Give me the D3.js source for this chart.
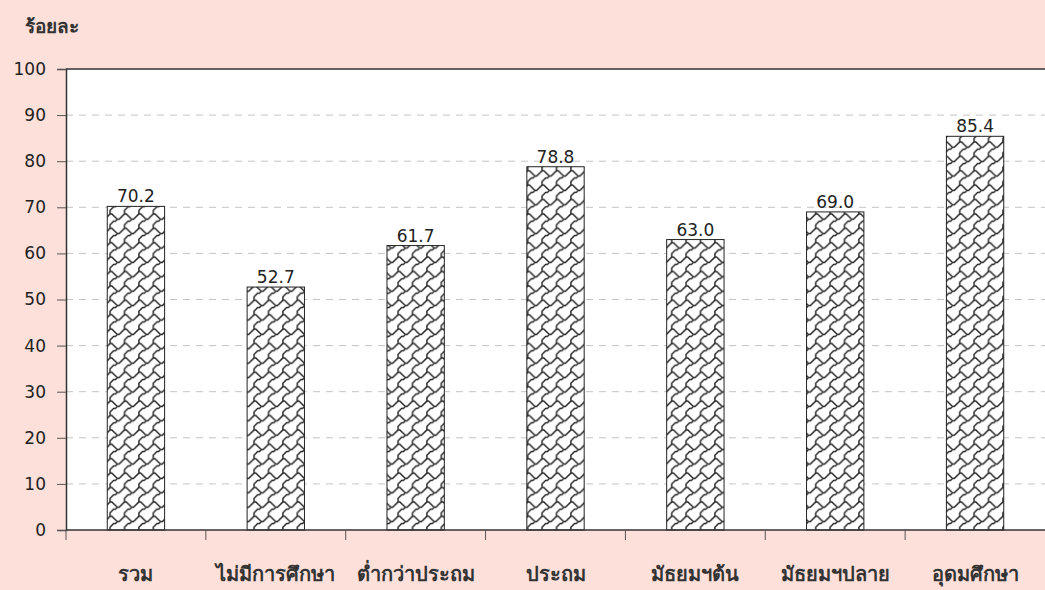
<!DOCTYPE html>
<html>
<head>
<meta charset="utf-8">
<script src="https://cdn.jsdelivr.net/npm/d3@7"></script>
<style>
  body { margin: 0; background: #fde0d9; }
  svg { display: block; }
</style>
</head>
<body>
<svg id="bar-chart" width="1045" height="590"></svg>
<script>
// data
const categories = ['รวม', 'ไม่มีการศึกษา', 'ต่ำกว่าประถม', 'ประถม', 'มัธยมฯต้น', 'มัธยมฯปลาย', 'อุดมศึกษา'];
const values = [70.2, 52.7, 61.7, 78.8, 63.0, 69.0, 85.4];
const yTicks = [0, 10, 20, 30, 40, 50, 60, 70, 80, 90, 100];
const yTitle = 'ร้อยละ';

const svg = d3.select('#bar-chart');
const width = +svg.attr('width');
const height = +svg.attr('height');
const margin = { top: 69, right: 0, bottom: 60, left: 66 };
const innerWidth = width - margin.left - margin.right;
const innerHeight = height - margin.top - margin.bottom;

const numFont = '"DejaVu Sans", sans-serif';
const thaiFont = '"Noto Sans", "DejaVu Sans", sans-serif';

// shingle fill pattern (8x8 bitmap scaled up)
const defs = svg.append('defs');
const pat = defs.append('pattern')
    .attr('id', 'shingle')
    .attr('patternUnits', 'userSpaceOnUse')
    .attr('width', 8)
    .attr('height', 8)
    .attr('patternTransform', 'scale(1.8)');
pat.append('rect').attr('width', 8).attr('height', 8).attr('fill', '#fff');
pat.append('path')
    .attr('d', 'M0.5,-0.5 L0.5,0.5 L1.5,0.5 L4.5,3.5 L5.5,3.5 L8.5,0.5 M-0.5,1.5 L0.5,0.5 M4.5,3.5 L3.5,4.5 L2.5,4.5 L0.5,6.5 L0.5,8.5')
    .attr('fill', 'none')
    .attr('stroke', '#222')
    .attr('stroke-width', 0.8);

const g = svg.append('g')
    .attr('transform', `translate(${margin.left},${margin.top})`);

const x = d3.scaleBand().domain(categories).range([0, innerWidth]);
const y = d3.scaleLinear().domain([0, 100]).range([innerHeight, 0]);

// plot background
g.append('rect')
    .attr('width', innerWidth)
    .attr('height', innerHeight)
    .attr('fill', '#fff');

// gridlines
g.selectAll('.grid')
    .data(yTicks.filter(d => d > 0 && d < 100))
    .enter().append('line')
    .attr('x1', 0).attr('x2', innerWidth)
    .attr('y1', d => y(d)).attr('y2', d => y(d))
    .attr('stroke', '#c4c4c4')
    .attr('stroke-width', 1)
    .attr('stroke-dasharray', '7,6');

// top border
g.append('line')
    .attr('x1', 0).attr('x2', innerWidth)
    .attr('y1', 0).attr('y2', 0)
    .attr('stroke', '#333').attr('stroke-width', 1.3);

// bars
const barW = x.bandwidth() * 0.41;
g.selectAll('.bar')
    .data(values)
    .enter().append('rect')
    .attr('x', (d, i) => x(categories[i]) + (x.bandwidth() - barW) / 2)
    .attr('y', d => y(d))
    .attr('width', barW)
    .attr('height', d => innerHeight - y(d))
    .attr('fill', 'url(#shingle)')
    .attr('stroke', '#222')
    .attr('stroke-width', 1);

// value labels
g.selectAll('.val')
    .data(values)
    .enter().append('text')
    .attr('x', (d, i) => x(categories[i]) + x.bandwidth() / 2)
    .attr('y', d => y(d) - 4)
    .attr('text-anchor', 'middle')
    .attr('font-family', numFont)
    .attr('font-size', 17)
    .attr('fill', '#222')
    .text(d => d.toFixed(1));

// y axis
const yAxis = d3.axisLeft(y).tickValues(yTicks).tickSize(9).tickPadding(11);
const yAxisG = g.append('g').call(yAxis);
yAxisG.select('.domain').attr('stroke', '#333').attr('stroke-width', 1.5);
yAxisG.selectAll('.tick line').attr('stroke', '#555');
yAxisG.selectAll('.tick text')
    .attr('font-family', numFont)
    .attr('font-size', 17)
    .attr('fill', '#222');

// x axis
const xAxisG = g.append('g')
    .attr('transform', `translate(0,${innerHeight})`);
xAxisG.append('line')
    .attr('x1', 0).attr('x2', innerWidth)
    .attr('stroke', '#333').attr('stroke-width', 1.5);
xAxisG.selectAll('.xtick')
    .data(d3.range(categories.length))
    .enter().append('line')
    .attr('x1', i => x(categories[i])).attr('x2', i => x(categories[i]))
    .attr('y1', 0).attr('y2', 10)
    .attr('stroke', '#555');
xAxisG.selectAll('.xlabel')
    .data(categories)
    .enter().append('text')
    .attr('x', d => x(d) + x.bandwidth() / 2)
    .attr('y', 51)
    .attr('text-anchor', 'middle')
    .attr('font-family', thaiFont)
    .attr('font-size', 20)
    .attr('font-weight', 'bold')
    .attr('fill', '#333')
    .text(d => d);

// y axis title
svg.append('text')
    .attr('x', 25)
    .attr('y', 33)
    .attr('font-family', thaiFont)
    .attr('font-size', 19)
    .attr('font-weight', 'bold')
    .attr('fill', '#333')
    .text(yTitle);
</script>
</body>
</html>
